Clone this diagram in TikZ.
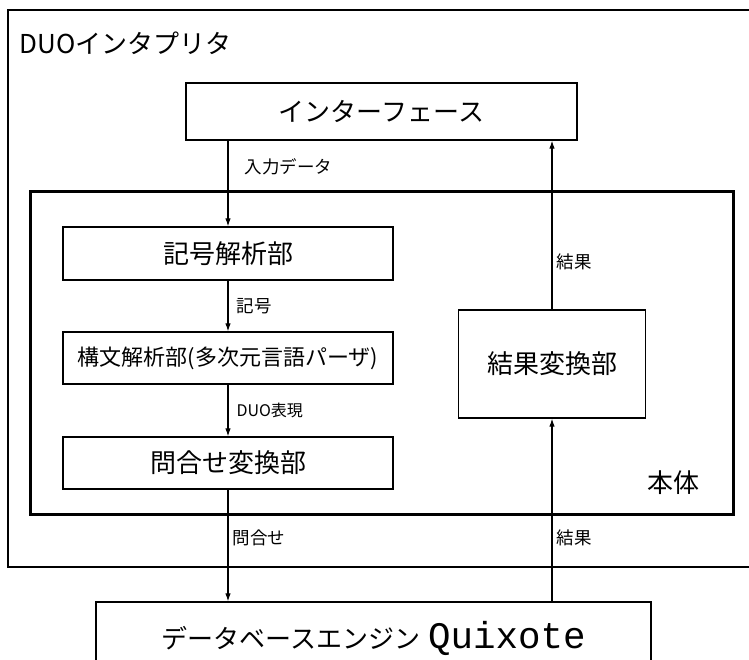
\documentclass[tikz,border=0pt]{standalone}
\usepackage{fontspec}
\setmainfont{Noto Sans CJK JP}
\newfontfamily\qmono{Liberation Mono}
\usepackage{tikz}
\usetikzlibrary{%
  arrows.meta,%
  positioning% wg. " of "
}

\begin{document}
\begin{tikzpicture}[x=1pt,y=-1pt]
 \begin{scope}[black,
   box/.style={draw,line width=1.3pt,inner sep=0pt,font=\fontsize{26}{28}\selectfont},
   arr/.style={line width=1.1pt,-{Latex[length=8pt,width=5.5pt]}},
   lbl/.style={anchor=west,inner sep=4pt,font=\fontsize{17.5}{19}\selectfont}]
   \useasboundingbox (0,0) rectangle (749,660);

   %Rahmen
   \draw[line width=2pt] (8,10) rectangle (762,567);
   \node [anchor=west,font=\fontsize{26}{28}\selectfont] (titel) at (16,43) {DUOインタプリタ};
   \draw[line width=3pt] (30,192) rectangle (733,514);
   \node [font=\fontsize{26}{28}\selectfont] (honbun) at (673,483) {本体};

   %Kaesten
   \node[box,minimum width=391,minimum height=57] (iface) at (381.5,111.5) {インターフェース};
   \node[box,minimum width=330,minimum height=53] (kigou) at (228,253.5) {記号解析部};
   \node[box,minimum width=330,minimum height=52,font=\fontsize{22}{24}\selectfont] (koubun) at (228,358) {構文解析部(多次元言語パーザ)};
   \node[box,minimum width=330,minimum height=52] (toiawase) at (228,463) {問合せ変換部};
   \node[box,minimum width=187,minimum height=108] (kekka) at (552,364) {結果変換部};
   \node[box,minimum width=555,minimum height=72] (db) at (373.5,638) {データベースエンジン\hspace{8pt}{\qmono\fontsize{37.5}{40}\selectfont Quixote}};

   %Pfeile
   \draw[arr] (kigou.north |- iface.south) -- node[lbl,pos=0.3,xshift=12pt]{入力データ} (kigou.north);
   \draw[arr] (kigou.south) -- node[lbl,pos=0.5,xshift=4pt]{記号} (koubun.north);
   \draw[arr] (koubun.south) -- node[lbl,pos=0.5,xshift=4pt,font=\fontsize{16}{18}\selectfont]{DUO表現} (toiawase.north);
   \draw[arr] (toiawase.south) -- node[lbl,pos=0.43]{問合せ} (toiawase.south |- db.north);
   \draw[arr] (kekka.south |- db.north) -- node[lbl,pos=0.35]{結果} (kekka.south);
   \draw[arr] (kekka.north) -- node[lbl,pos=0.28]{結果} (kekka.north |- iface.south);
 \end{scope}
\end{tikzpicture}
\end{document}
